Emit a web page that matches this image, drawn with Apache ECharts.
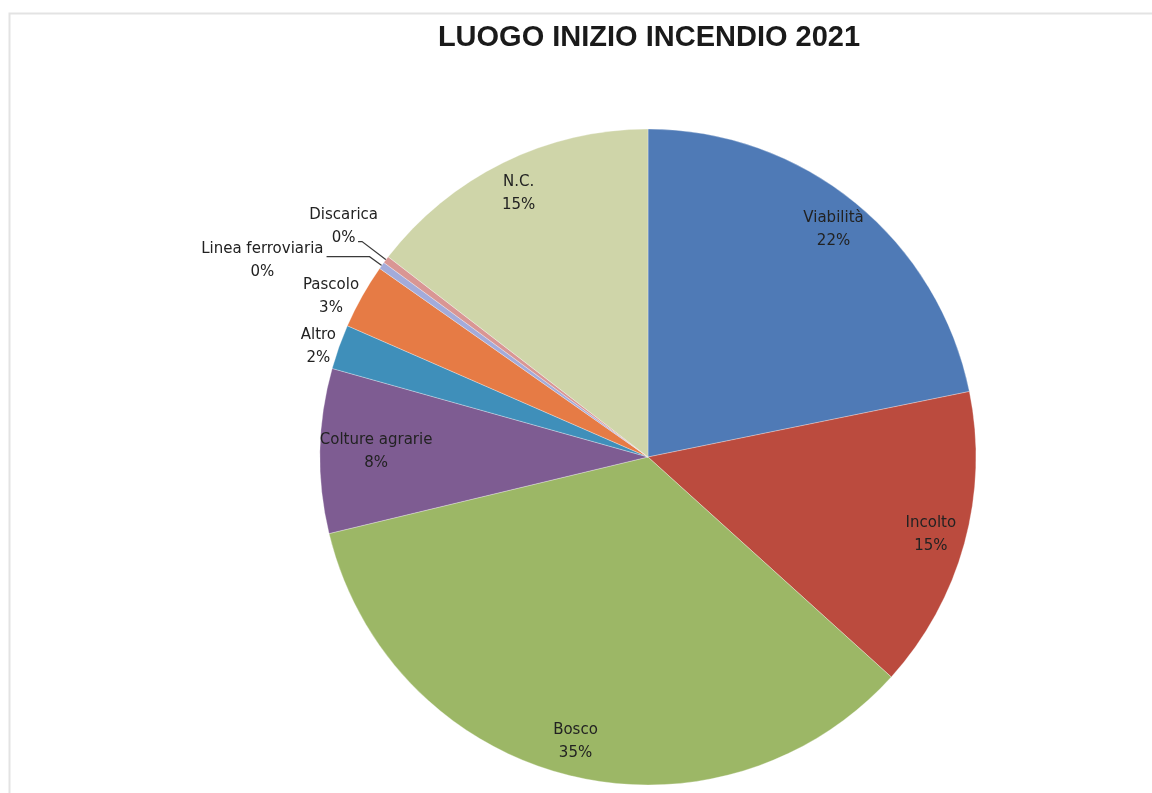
<!DOCTYPE html>
<html>
<head>
<meta charset="utf-8">
<script src="https://cdn.jsdelivr.net/npm/echarts@6/dist/echarts.min.js"></script>
<style>
html,body{margin:0;padding:0;background:#fff;}
#chart{width:1152px;height:793px;}
</style>
</head>
<body>
<div id="chart"></div>
<script>
const titleText = 'LUOGO INIZIO INCENDIO 2021';
const categories = ['Viabilità', 'Incolto', 'Bosco', 'Colture agrarie', 'Altro', 'Pascolo', 'Linea ferroviaria', 'Discarica', 'N.C.'];
const values = [21.8, 14.9, 34.55, 8.1, 2.2, 3.2, 0.35, 0.35, 14.55];
const colors = ['#4F7AB6', '#BB4B3E', '#9CB766', '#7E5C92', '#3F8FBA', '#E67B45', '#A3ABDA', '#D99694', '#CFD5A9'];

const outerLabels = ['Altro', 'Pascolo', 'Linea ferroviaria', 'Discarica'];
const nearLabels = ['Colture agrarie'];

const total = values.reduce((a, b) => a + b, 0);
const pct = v => Math.round(v / total * 100) + '%';

const CX = 648, CY = 457, R = 328;
const FONT = 'DejaVu Sans';

const labelFmt = p => '{n|' + p.name + '}\n{n|' + pct(p.value) + '}';
const rich = { n: { align: 'center', fontFamily: FONT, fontSize: 15, color: '#222222', lineHeight: 23 } };

const mainData = categories.map((c, i) => {
  const isOuter = outerLabels.includes(c);
  const item = { name: c, value: values[i], itemStyle: { color: colors[i] } };
  if (!isOuter) {
    item.label = { show: false };
    item.labelLine = { show: false };
  } else if (c === 'Altro' || c === 'Pascolo') {
    item.labelLine = { show: false, length: 0, length2: 0 };
    item.label = { show: true, distanceToLabelLine: 3 };
  } else if (c === 'Linea ferroviaria') {
    item.labelLine = { show: true, length: 15, length2: 43 };
    item.label = { show: true, distanceToLabelLine: 3, padding: [8, 0, 0, 0] };
  } else {
    item.labelLine = { show: true, length: 30, length2: 4 };
    item.label = { show: true, distanceToLabelLine: -20, padding: [0, 0, 30, 0] };
  }
  return item;
});

const overlayData = (names) => categories.map((c, i) => ({
  name: c, value: values[i],
  label: { show: names.includes(c) }
}));

const innerNames = categories.filter(c => !outerLabels.includes(c) && !nearLabels.includes(c));

const chart = echarts.init(document.getElementById('chart'), null, { renderer: 'canvas' });
chart.setOption({
  backgroundColor: '#ffffff',
  animation: false,
  title: {
    text: titleText,
    left: CX - 4, top: 18, textAlign: 'center',
    textStyle: { fontFamily: 'Liberation Sans', fontWeight: 'bold', fontSize: 29, color: '#1a1a1a' }
  },
  graphic: [{
    type: 'rect', silent: true, z: -10,
    shape: { x: 9.5, y: 13.5, width: 1200, height: 820 },
    style: { fill: 'none', stroke: '#e3e3e3', lineWidth: 2 }
  }],
  series: [
    {
      type: 'pie',
      center: [CX, CY], radius: [0, R],
      startAngle: 90, clockwise: true,
      avoidLabelOverlap: false,
      labelLayout: { hideOverlap: false },
      itemStyle: { borderColor: 'rgba(255,255,255,0.5)', borderWidth: 0.6 },
      label: { show: true, position: 'outside', formatter: labelFmt, rich: rich, distanceToLabelLine: 4 },
      labelLine: { show: true, lineStyle: { color: '#3a3a3a', width: 1.2 } },
      emphasis: { disabled: true },
      data: mainData
    },
    {
      type: 'pie', silent: true,
      center: [CX, CY], radius: [R * 0.77, R],
      startAngle: 90, clockwise: true,
      itemStyle: { color: 'rgba(0,0,0,0)' },
      label: { position: 'inside', formatter: labelFmt, rich: rich },
      labelLine: { show: false },
      labelLayout: { hideOverlap: false },
      emphasis: { disabled: true },
      data: overlayData(innerNames)
    },
    {
      type: 'pie', silent: true,
      center: [CX, CY], radius: [R * 0.64, R],
      startAngle: 90, clockwise: true,
      itemStyle: { color: 'rgba(0,0,0,0)' },
      label: { position: 'inside', formatter: labelFmt, rich: rich },
      labelLine: { show: false },
      labelLayout: { hideOverlap: false },
      emphasis: { disabled: true },
      data: overlayData(nearLabels)
    }
  ]
});
</script>
</body>
</html>
